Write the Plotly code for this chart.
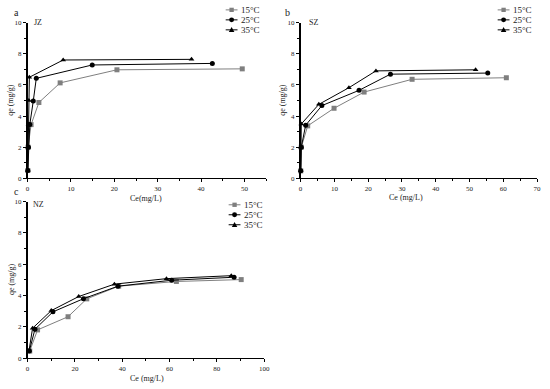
import plotly.graph_objects as go

series_names = ["15°C", "25°C", "35°C"]

# Panel a (JZ)
a_x15 = [0.05, 0.1, 0.8, 2.6, 7.5, 20.6, 49.5]
a_y15 = [0.5, 2.0, 3.45, 4.87, 6.13, 6.97, 7.03]
a_x25 = [0.05, 0.2, 0.5, 1.3, 2.0, 14.9, 42.6]
a_y25 = [0.5, 2.0, 3.45, 4.96, 6.42, 7.28, 7.38]
a_x35 = [0.05, 0.1, 0.2, 0.3, 0.4, 8.2, 37.8]
a_y35 = [0.5, 2.0, 3.45, 5.0, 6.49, 7.6, 7.64]

# Panel b (SZ)
b_x15 = [0.05, 0.2, 2.1, 9.9, 18.8, 33.0, 60.9]
b_y15 = [0.48, 2.0, 3.37, 4.5, 5.54, 6.36, 6.46]
b_x25 = [0.05, 0.2, 1.5, 6.3, 17.3, 26.6, 55.4]
b_y25 = [0.48, 2.0, 3.41, 4.67, 5.65, 6.69, 6.76]
b_x35 = [0.05, 0.1, 0.2, 5.4, 14.3, 22.3, 51.8]
b_y35 = [0.48, 2.0, 3.49, 4.75, 5.82, 6.9, 6.97]

# Panel c (NZ)
c_x15 = [0.9, 4.2, 17.1, 25.0, 38.5, 62.9, 90.3]
c_y15 = [0.46, 1.81, 2.65, 3.79, 4.6, 4.9, 5.02]
c_x25 = [0.7, 3.1, 10.7, 23.6, 38.2, 60.9, 87.3]
c_y25 = [0.46, 1.85, 2.96, 3.8, 4.6, 4.98, 5.17]
c_x35 = [0.6, 2.1, 10.0, 21.6, 36.7, 58.7, 86.1]
c_y35 = [0.5, 1.92, 3.04, 3.94, 4.73, 5.08, 5.27]

colors = ["#7f7f7f", "#000000", "#000000"]
symbols = ["square", "circle", "triangle-up"]

panels = [
    ("x", "y", [(a_x15, a_y15), (a_x25, a_y25), (a_x35, a_y35)]),
    ("x2", "y2", [(b_x15, b_y15), (b_x25, b_y25), (b_x35, b_y35)]),
    ("x3", "y3", [(c_x15, c_y15), (c_x25, c_y25), (c_x35, c_y35)]),
]

fig = go.Figure()
for xa, ya, data in panels:
    for i, (xs, ys) in enumerate(data):
        fig.add_trace(go.Scatter(
            x=xs, y=ys, xaxis=xa, yaxis=ya,
            name=series_names[i], mode="lines+markers", showlegend=False,
            line=dict(color=colors[i], width=1),
            marker=dict(symbol=symbols[i], size=5, color=colors[i]),
            cliponaxis=False,
        ))

W, H = 550, 389
def px(v): return v / W
def py(v): return 1 - v / H

font = dict(family="Liberation Serif", size=7, color="#222")

def xaxis(dom, rng, dt, anchor):
    return dict(domain=dom, range=rng, dtick=dt, tick0=0, anchor=anchor,
                showline=True, linecolor="black", linewidth=1,
                ticks="outside", ticklen=3, tickwidth=1, tickcolor="black",
                minor=dict(ticks="outside", ticklen=2, dtick=dt / 2, tickcolor="black"),
                showgrid=False, zeroline=False, tickfont=font)

def yaxis(dom, anchor):
    return dict(domain=dom, range=[0, 10], dtick=2, tick0=0, anchor=anchor,
                showline=True, linecolor="black", linewidth=1.5,
                ticks="outside", ticklen=3, tickwidth=1, tickcolor="black",
                minor=dict(ticks="outside", ticklen=2, dtick=1, tickcolor="black"),
                showgrid=False, zeroline=False, tickfont=font)

ab_y = [py(178), py(19)]
c_y = [py(361.7), py(201.7)]

fig.update_layout(
    width=W, height=H, margin=dict(l=0, r=0, t=0, b=0),
    paper_bgcolor="white", plot_bgcolor="white",
    showlegend=False,
    xaxis=xaxis([px(26), px(268)], [0, 55], 10, "y"),
    yaxis=yaxis(ab_y, "x"),
    xaxis2=xaxis([px(303), px(543)], [0, 70], 10, "y2"),
    yaxis2=yaxis(ab_y, "x2"),
    xaxis3=xaxis([px(26), px(266)], [0, 100], 20, "y3"),
    yaxis3=yaxis(c_y, "x3"),
)

# Legend keys (drawn as decorations, paper coordinates in pixels)
legend_pos = [(227, 6), (503, 6), (230, 205)]  # (line start x, first row y)
row_gap = 10.2
shapes = []
anns = []
lfont = dict(family="Liberation Serif", size=9, color="#222")
for lx, ly in legend_pos:
    for i in range(3):
        yy = ly + i * row_gap
        cx = lx + 6
        shapes.append(dict(type="line", xref="paper", yref="paper",
                           x0=px(lx), x1=px(lx + 12), y0=py(yy), y1=py(yy),
                           line=dict(color=colors[i], width=1)))
        r = 2.2
        if symbols[i] == "square":
            shapes.append(dict(type="rect", xref="paper", yref="paper",
                               x0=px(cx - r), x1=px(cx + r), y0=py(yy + r), y1=py(yy - r),
                               fillcolor=colors[i], line=dict(width=0)))
        elif symbols[i] == "circle":
            shapes.append(dict(type="circle", xref="paper", yref="paper",
                               x0=px(cx - r - 0.3), x1=px(cx + r + 0.3), y0=py(yy + r + 0.3), y1=py(yy - r - 0.3),
                               fillcolor=colors[i], line=dict(width=0)))
        else:
            path = "M {} {} L {} {} L {} {} Z".format(
                px(cx - 2.8), py(yy + 2.2), px(cx + 2.8), py(yy + 2.2), px(cx), py(yy - 2.8))
            shapes.append(dict(type="path", xref="paper", yref="paper", path=path,
                               fillcolor=colors[i], line=dict(width=0)))
        anns.append(dict(text=series_names[i], x=px(lx + 14), y=py(yy), xanchor="left",
                         yanchor="middle", font=lfont))

tfont = dict(family="Liberation Serif", size=8, color="#222")
big = dict(family="Liberation Serif", size=10, color="#222")
anns += [
    dict(text="a", x=px(15), y=py(9), font=big),
    dict(text="b", x=px(290), y=py(9), font=big),
    dict(text="c", x=px(15), y=py(191), font=big),
    dict(text="JZ", x=px(30), y=py(19), xanchor="left", font=tfont),
    dict(text="SZ", x=px(309), y=py(19), xanchor="left", font=tfont),
    dict(text="NZ", x=px(29), y=py(205), xanchor="left", font=tfont),
    dict(text="qe (mg/g)", x=px(9), y=py(98), textangle=-90, font=tfont),
    dict(text="qe (mg/g)", x=px(285), y=py(98), textangle=-90, font=tfont),
    dict(text="qe (mg/g)", x=px(9), y=py(281), textangle=-90, font=tfont),
    dict(text="Ce(mg/L)", x=px(146), y=py(199), font=tfont),
    dict(text="Ce (mg/L)", x=px(410), y=py(198), font=tfont),
    dict(text="Ce (mg/L)", x=px(147), y=py(382), font=tfont),
]
for a in anns:
    a.setdefault("xanchor", "center")
    a.setdefault("yanchor", "middle")
    a.update(xref="paper", yref="paper", showarrow=False)
fig.update_layout(annotations=anns, shapes=shapes)

fig.write_html("out.html", config={"displayModeBar": False},
               post_script="document.body.style.margin='0';document.body.style.overflow='hidden';")
